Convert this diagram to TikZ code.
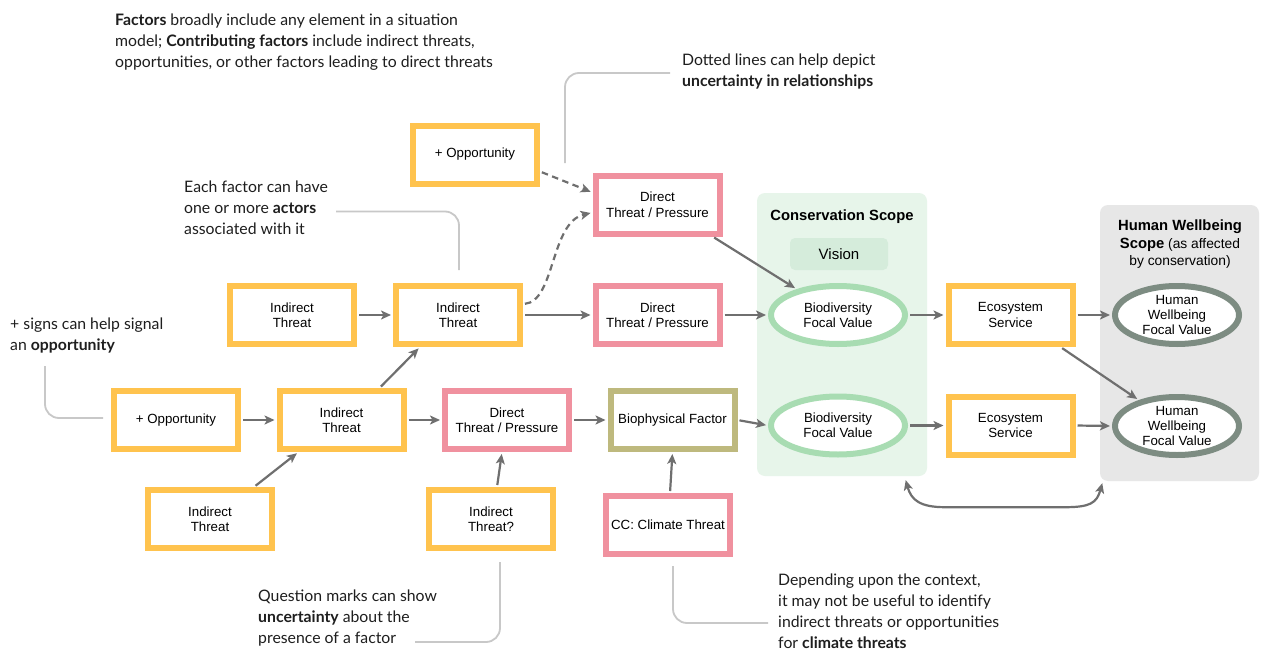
\documentclass[tikz,border=0pt]{standalone}
\usepackage{fontspec}
\setmainfont{Lato}
\newfontfamily\rob{Liberation Sans}
\usetikzlibrary{arrows.meta,calc,shapes.geometric}
\definecolor{cYel}{HTML}{FFC34E}
\definecolor{cPink}{HTML}{F0919F}
\definecolor{cOlive}{HTML}{BEB97E}
\definecolor{cGreen}{HTML}{A8DCB2}
\definecolor{cDark}{HTML}{7D8C82}
\definecolor{cArrow}{HTML}{6F6F6F}
\definecolor{cCall}{HTML}{C8C8C8}
\definecolor{cConsBg}{HTML}{E7F5EA}
\definecolor{cVision}{HTML}{D5ECDB}
\definecolor{cHumBg}{HTML}{E7E7E7}
\definecolor{cText}{HTML}{1E1E1E}
\tikzset{
  box/.style={draw, line width=6pt, fill=white, minimum width=124pt, minimum height=58pt,
    inner sep=0pt, align=center, font=\rob\fontsize{13.3}{15.5}\selectfont, text=black},
  ybox/.style={box, draw=cYel},
  pbox/.style={box, draw=cPink},
  obox/.style={box, draw=cOlive},
  fv/.style={ellipse, draw, line width=6pt, fill=white, minimum width=134pt, minimum height=58pt,
    inner sep=-2pt, align=center, font=\rob\fontsize{13.3}{15}\selectfont, text=black},
  gfv/.style={fv, draw=cGreen},
  dfv/.style={fv, draw=cDark, minimum width=124pt},
  >={Stealth[length=10pt,width=9pt,inset=2.5pt]},
  arr/.style={draw=cArrow, line width=2.2pt, ->, shorten >=2pt, shorten <=2pt},
  dasharr/.style={arr, dash pattern=on 6.5pt off 4.5pt},
  callout/.style={draw=cCall, line width=1.8pt, rounded corners=14pt},
  note/.style={anchor=north west, inner sep=0pt, align=left, text=cText,
    font=\fontsize{15.8}{21}\selectfont},
}
\begin{document}
\begin{tikzpicture}[x=1pt,y=-1pt]
\useasboundingbox (0,0) rectangle (1272,669);
\fill[white] (0,0) rectangle (1272,669);

% scope backgrounds
\node[fill=cConsBg, rounded corners=8pt, minimum width=170pt, minimum height=283pt, inner sep=0pt] (cons) at (842,334.5) {};
\node[fill=cHumBg, rounded corners=8pt, minimum width=159pt, minimum height=276pt, inner sep=0pt] (hum) at (1179.5,343) {};
\node[font=\rob\bfseries\fontsize{14.8}{17}\selectfont] (consT) at (842,217) {Conservation Scope};
\node[align=center, inner sep=0pt, font=\rob\fontsize{13.8}{17.5}\selectfont] (humT) at (1180,244.5)
  {{\bfseries\fontsize{14.8}{17.5}\selectfont Human Wellbeing}\\{\bfseries\fontsize{14.8}{17.5}\selectfont Scope} (as affected\\by conservation)};
\node[fill=cVision, rounded corners=5pt, minimum width=98pt, minimum height=32pt, inner sep=0pt,
  font=\rob\fontsize{15}{18}\selectfont] (vision) at (839,254) {Vision};

% factor boxes
\node[ybox] (oppT) at (475,154.5) {+ Opportunity};
\node[pbox] (dt1) at (657.5,204.5) {Direct\\Threat / Pressure};
\node[ybox] (it1) at (292,315) {Indirect\\Threat};
\node[ybox] (it2) at (458,315) {Indirect\\Threat};
\node[pbox] (dt2) at (657.5,315) {Direct\\Threat / Pressure};
\node[ybox] (opp2) at (176,420) {+ Opportunity};
\node[ybox] (it3) at (341.5,420) {Indirect\\Threat};
\node[pbox] (dt3) at (507,420) {Direct\\Threat / Pressure};
\node[obox] (bio) at (672.5,420) {Biophysical Factor};
\node[ybox] (it4) at (210,519) {Indirect\\Threat};
\node[ybox] (it5) at (491,519) {Indirect\\Threat?};
\node[pbox] (cc) at (668,525) {CC: Climate Threat};
\node[ybox] (eco1) at (1010.5,315) {Ecosystem\\Service};
\node[ybox] (eco2) at (1010.5,425.5) {Ecosystem\\Service};
\node[gfv] (bio1) at (838,315) {Biodiversity\\Focal Value};
\node[gfv] (bio2) at (838,425.5) {Biodiversity\\Focal Value};
\node[dfv] (hw1) at (1177,315) {Human\\Wellbeing\\Focal Value};
\node[dfv] (hw2) at (1177,426) {Human\\Wellbeing\\Focal Value};

% connectors
\draw[dasharr] ($(oppT.east)+(0,17)$) -- ($(dt1.west)+(0,-12)$);
\draw[dasharr] ($(it2.east)+(0,-11)$) .. controls +(32,-3) and +(-42,10) .. ($(dt1.west)+(0,8)$);
\draw[arr] (it1.east) -- (it2.west);
\draw[arr] (it2.east) -- (dt2.west);
\draw[arr] (dt2.east) -- (bio1.west);
\draw[arr] ($(dt1.south)+(55,0)$) -- (bio1);
\draw[arr] (bio1.east) -- (eco1.west);
\draw[arr] (eco1.east) -- (hw1.west);
\draw[arr] ($(eco1.south)+(50,0)$) -- (hw2);
\draw[arr] (opp2.east) -- (it3.west);
\draw[arr] ($(it3.north)+(38,0)$) -- ($(it2.south)+(-38,0)$);
\draw[arr] ($(it4.north)+(44,0)$) -- ($(it3.south)+(-43,0)$);
\draw[arr] (it3.east) -- (dt3.west);
\draw[arr] ($(it5.north)+(6,0)$) -- ($(dt3.south)+(-5,0)$);
\draw[arr] (dt3.east) -- (bio.west);
\draw[arr] ($(cc.north)+(2,0)$) -- (bio.south);
\draw[arr] (bio.east) -- (bio2.west);
\draw[arr] (bio2.east) -- (eco2.west);
\draw[arr] (eco2.east) -- (hw2.west);
\coordinate (dA) at ($(cons.south east)+(-22,2)$);
\coordinate (dD) at ($(hum.south west)+(3,0)$);
\draw[arr, <->] (dA) .. controls +(6,22) and +(-25,0) .. ($(dA)+(40,29)$) -- ($(dD)+(-38,26)$) .. controls +(25,0) and +(-6,22) .. (dD);

% notes
\node[note] (nFac) at (115,13.5) {\textbf{Factors} broadly include any element in a situation\\model; \textbf{Contributing factors} include indirect threats,\\opportunities, or other factors leading to direct threats};
\node[note] (nDot) at (682,53.5) {Dotted lines can help depict\\\textbf{uncertainty in relationships}};
\node[note] (nAct) at (184,180.5) {Each factor can have\\one or more \textbf{actors}\\associated with it};
\node[note] (nPlus) at (10,317.5) {+ signs can help signal\\an \textbf{opportunity}};
\node[note] (nQ) at (258,589.5) {Question marks can show\\\textbf{uncertainty} about the\\presence of a factor};
\node[note] (nDep) at (778,573.5) {Depending upon the context,\\it may not be useful to identify\\indirect threats or opportunities\\for \textbf{climate threats}};

% callout lines
\coordinate (cs1) at (45,366); \coordinate (cs2) at (103,418);
\draw[callout] (cs1) |- (cs2);
\coordinate (ce1) at (336,211.5); \coordinate (ce2) at (459,270);
\draw[callout] (ce1) -| (ce2);
\coordinate (cd1) at (670,73); \coordinate (cd2) at (565,163);
\draw[callout] (cd1) -| (cd2);
\coordinate (cq1) at (415,642); \coordinate (cq2) at (500,562);
\draw[callout] (cq1) -| (cq2);
\coordinate (cc1) at (673,566); \coordinate (cc2) at (768,623);
\draw[callout] (cc1) |- (cc2);
\end{tikzpicture}
\end{document}
